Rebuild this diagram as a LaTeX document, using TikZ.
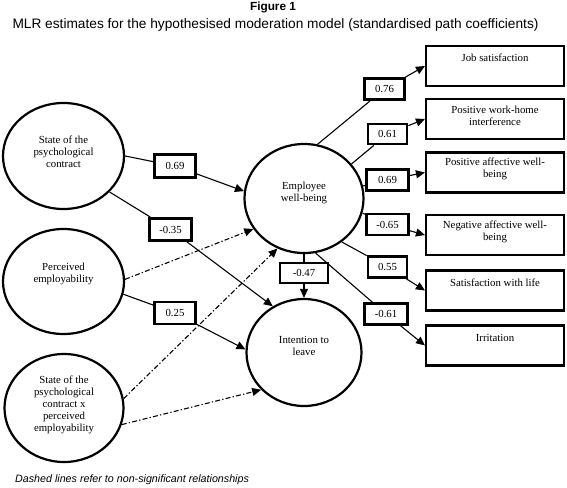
\documentclass[tikz,border=0pt]{standalone}
\usepackage{fontspec}
\setmainfont{Liberation Serif}
\newfontfamily\arialf{Liberation Sans}
\usetikzlibrary{shapes.geometric,arrows.meta}
\begin{document}
\begin{tikzpicture}[x=1pt,y=-1pt,
 latent/.style={ellipse,draw,line width=2.2pt,inner sep=0pt},
 ltxt/.style={align=center,font=\fontsize{10.8}{12}\selectfont,inner sep=0pt},
 obs/.style={rectangle,draw,line width=2.1pt,minimum width=138pt,minimum height=40pt,inner sep=0pt},
 coef/.style={rectangle,draw,fill=white,line width=2.8pt,minimum width=40pt,minimum height=21pt,inner sep=0pt,font=\fontsize{10.8}{12}\selectfont},
 conn/.style={line width=1.1pt,-{Triangle[length=9pt,width=8pt]}},
 nsconn/.style={conn,dash pattern=on 5pt off 2.2pt on 1.3pt off 2.2pt},
]
\fill[white] (0,0) rectangle (567,487);
\useasboundingbox (0,0) rectangle (567,487);

% titles
\node[anchor=base,font=\arialf\bfseries\fontsize{11.8}{14}\selectfont,inner sep=0pt] (fig) at (273,11) {Figure 1};
\node[anchor=base,font=\arialf\fontsize{13.7}{16}\selectfont,inner sep=0pt] (title) at (275.5,29) {MLR estimates for the hypothesised moderation model (standardised path coefficients)};

% latent variables
\node[latent,minimum width=121pt,minimum height=106pt] (spc) at (63.5,156) {};
\node[latent,minimum width=121pt,minimum height=105pt] (pe) at (63.5,281.5) {};
\node[latent,minimum width=119pt,minimum height=108pt] (int) at (64,408) {};
\node[latent,minimum width=119pt,minimum height=109pt] (ewb) at (304,198.5) {};
\node[latent,minimum width=115pt,minimum height=107pt] (itl) at (304,352.5) {};

\node[ltxt] (spct) at (63.5,152) {State of the\\psychological\\contract};
\node[ltxt] (pet) at (63.5,274) {Perceived\\employability};
\node[ltxt] (intt) at (64,405) {State of the\\psychological\\contract x\\perceived\\employability};
\node[ltxt] (ewbt) at (304,193) {Employee\\well-being};
\node[ltxt] (itlt) at (304,345.5) {Intention to\\leave};

% outcome boxes
\node[obs] (js) at (495,66) {};
\node[obs] (pwh) at (495,119) {};
\node[obs] (pa) at (495,172.5) {};
\node[obs] (na) at (495,235) {};
\node[obs] (swl) at (495,290.5) {};
\node[obs] (irr) at (495,345.5) {};

\node[ltxt,anchor=north] (jst) at (495,54) {Job satisfaction};
\node[ltxt,anchor=north] (pwht) at (495,106) {Positive work-home\\interference};
\node[ltxt,anchor=north] (pat) at (495,157.5) {Positive affective well-\\being};
\node[ltxt,anchor=north] (nat) at (495,221) {Negative affective well-\\being};
\node[ltxt,anchor=north] (swlt) at (495,279) {Satisfaction with life};
\node[ltxt,anchor=north] (irrt) at (495,334.5) {Irritation};

% coefficients
\node[coef,minimum width=41pt,minimum height=23pt] (c1) at (175,166) {0.69};
\node[coef,minimum width=42pt,minimum height=22pt] (c2) at (170.5,229.5) {-0.35};
\node[coef,minimum width=41pt,minimum height=22pt] (c3) at (175,313) {0.25};
\node[coef,minimum width=48pt,minimum height=20pt] (c10) at (304,273) {-0.47};
\node[coef] (c4) at (384.5,89) {0.76};
\node[coef,minimum width=39pt,minimum height=20pt] (c5) at (387.5,134) {0.61};
\node[coef,minimum width=42pt] (c6) at (387.5,180) {0.69};
\node[coef,minimum width=42pt] (c7) at (387.5,224.5) {-0.65};
\node[coef,minimum width=39pt] (c8) at (387.5,267) {0.55};
\node[coef,minimum width=43pt] (c9) at (386,314) {-0.61};

% paths
\draw[conn] (spc.east) -- (c1) -- (ewb.173);
\draw[conn] (spc.322) -- (c2) -- (itl.124);
\draw[conn] (pe.348) -- (c3) -- (itl.177);
\draw[nsconn] (pe.2) -- (ewb.211);
\draw[nsconn] (int.9) -- (ewb.242);
\draw[nsconn] (int.344) -- (itl.221);
\draw[conn] (ewb.south) -- (c10) -- (itl.north);
\draw[conn] (ewb.76) -- (c4) -- (js.west);
\draw[conn] (ewb.36) -- (c5) -- (pwh.west);
\draw[conn] (ewb.12) -- (c6) -- (pa.west);
\draw[conn] (ewb.-14) -- (c7) -- (na.west);
\draw[conn] (ewb.-49) -- (c8) -- (swl.west);
\draw[conn] (ewb.-78) -- (c9) -- (irr.west);

% note
\node[anchor=base west,font=\arialf\itshape\fontsize{10.7}{12}\selectfont,inner sep=0pt] (note) at (15,482) {Dashed lines refer to non-significant relationships};
\end{tikzpicture}
\end{document}
